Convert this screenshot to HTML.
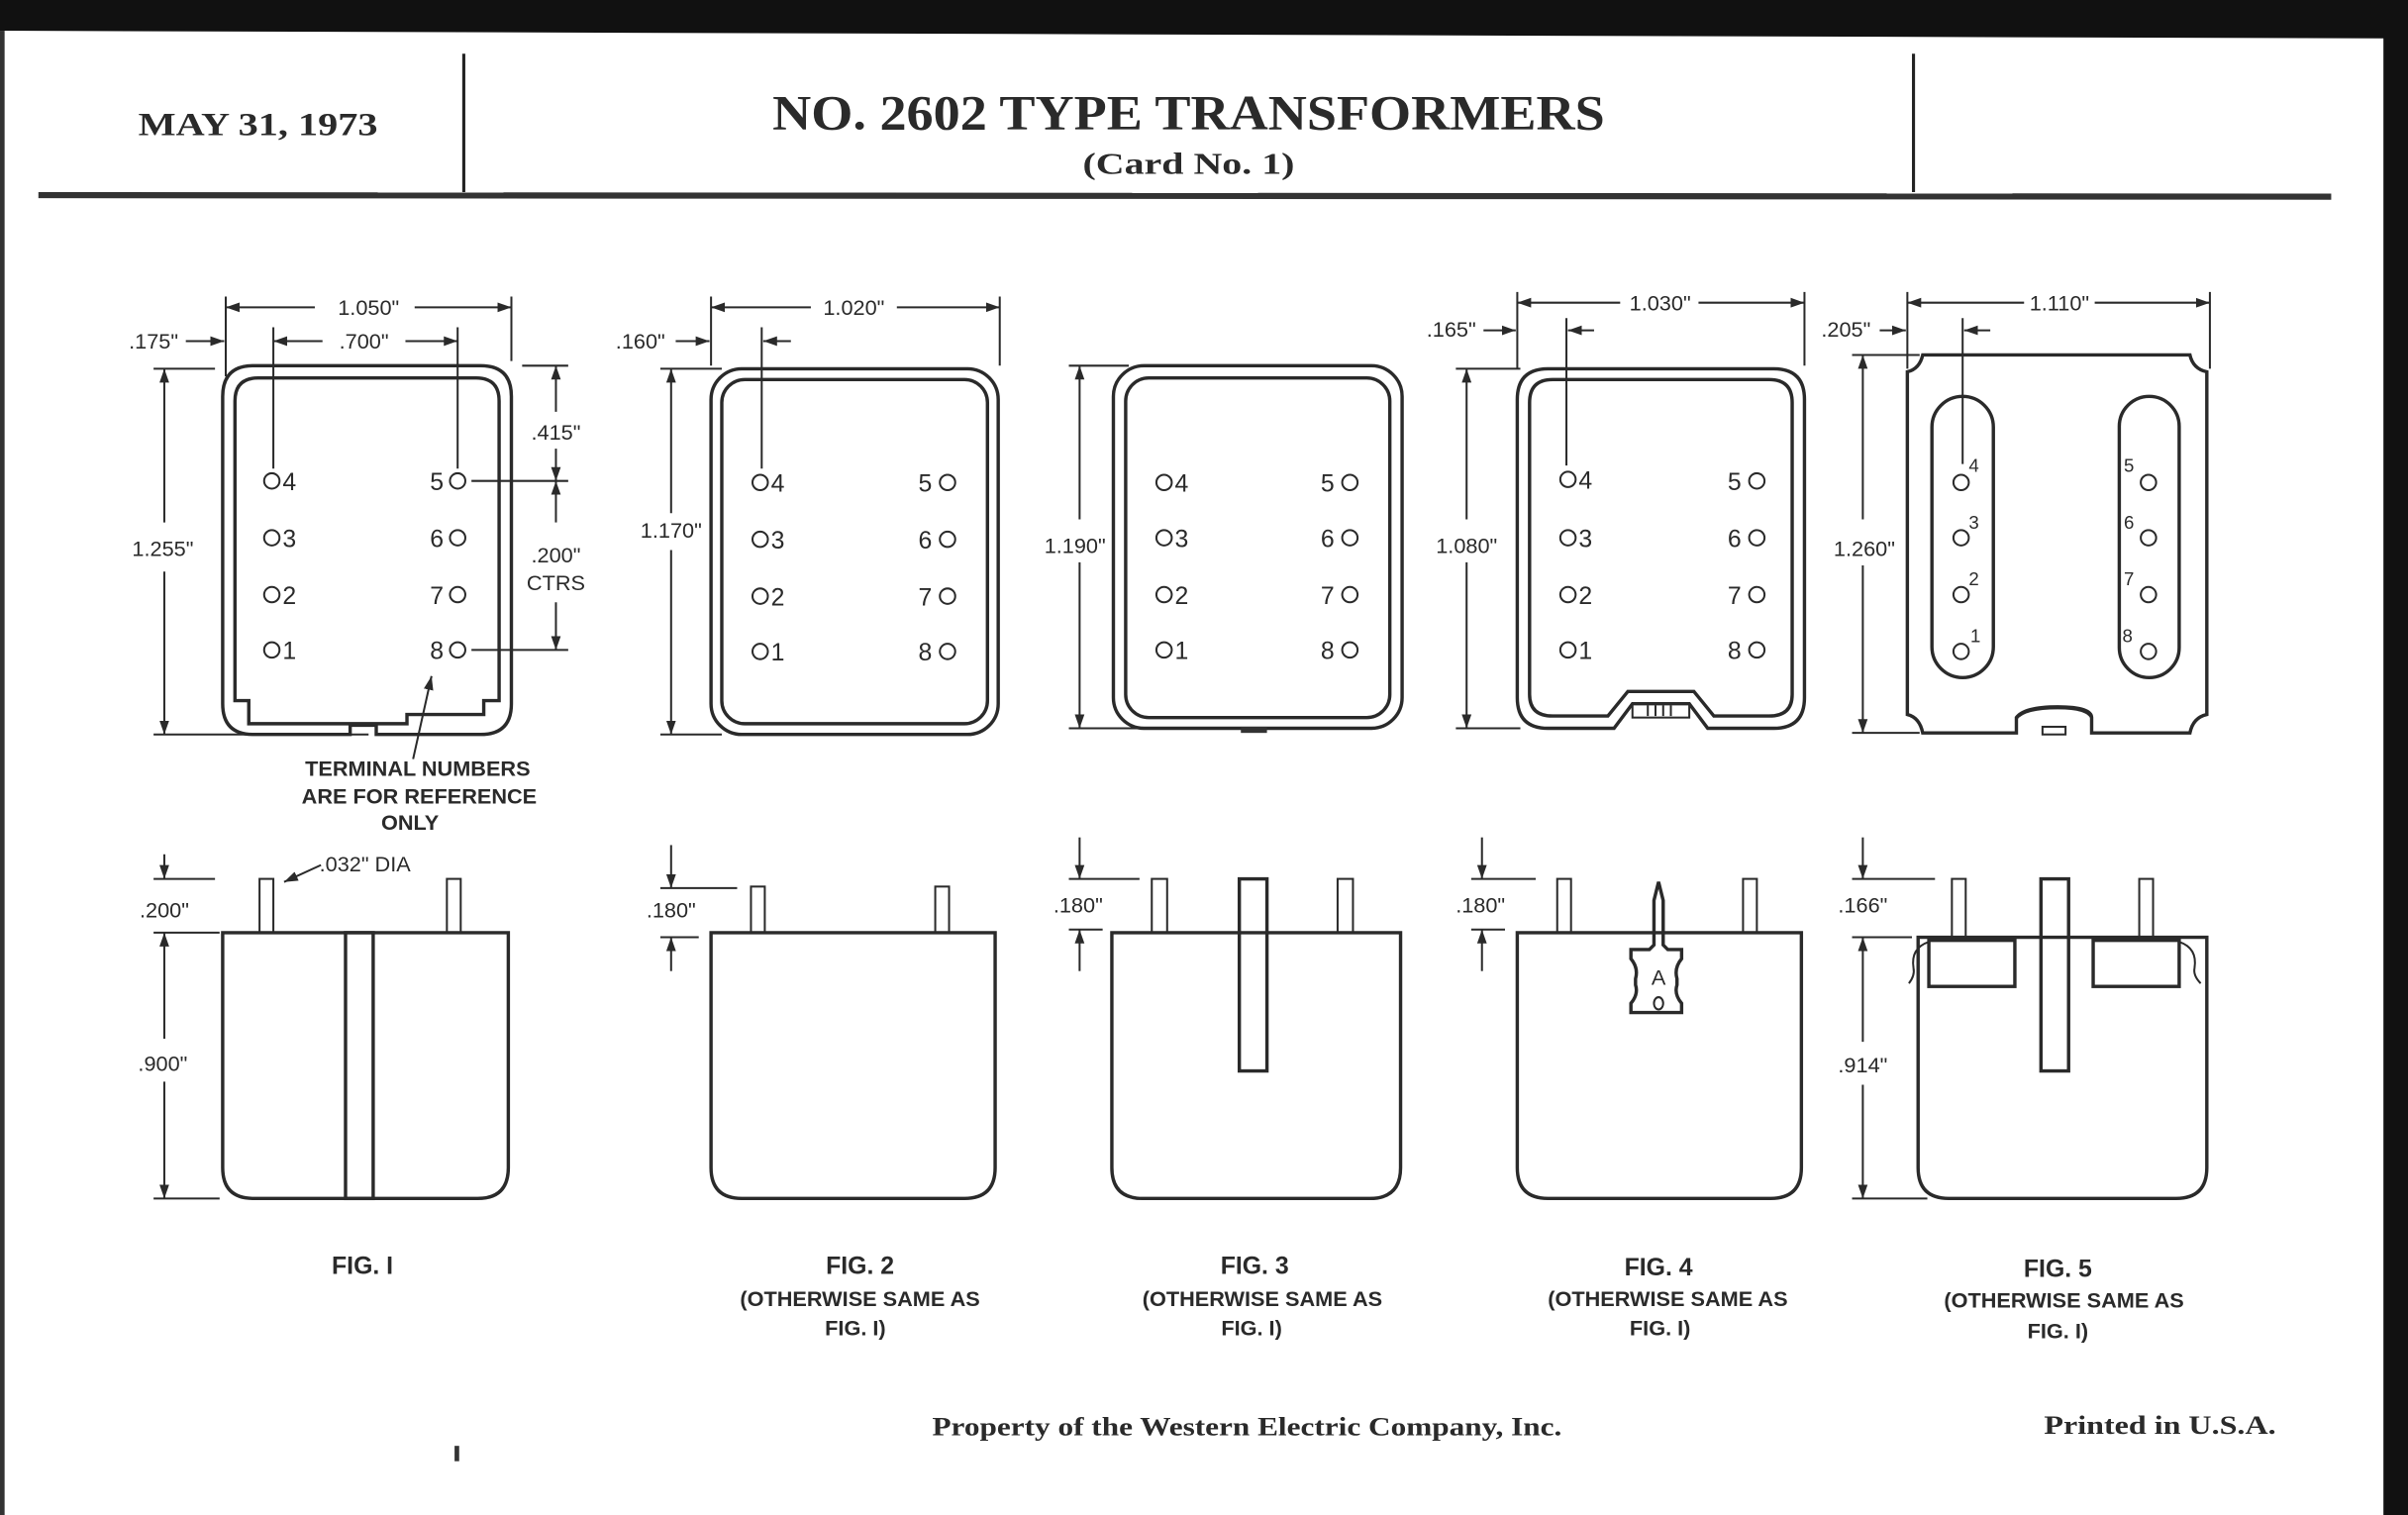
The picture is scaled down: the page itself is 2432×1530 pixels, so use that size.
<!DOCTYPE html>
<html><head><meta charset="utf-8"><style>
html,body{margin:0;padding:0;background:#fff;}
svg{display:block;}
.s{fill:none;stroke:#2a2a2a;stroke-width:2.2;}
.t{fill:none;stroke:#2a2a2a;stroke-width:1.3;}
.d{font-family:"Liberation Sans",sans-serif;font-size:14px;fill:#2a2a2a;}
.n{font-family:"Liberation Sans",sans-serif;font-size:16px;fill:#2a2a2a;}
.c{font-family:"Liberation Sans",sans-serif;font-size:16px;font-weight:bold;fill:#2a2a2a;text-anchor:middle;}
.c2{font-family:"Liberation Sans",sans-serif;font-size:14px;font-weight:bold;fill:#2a2a2a;text-anchor:middle;}
.sup{font-family:"Liberation Sans",sans-serif;font-size:12px;fill:#2a2a2a;}
.h{font-family:"Liberation Serif",serif;font-weight:bold;fill:#2a2a2a;}
</style></head><body>
<svg width="2432" height="1530" viewBox="0 0 1568 986" preserveAspectRatio="none" xmlns="http://www.w3.org/2000/svg">
<defs>
<marker id="a" viewBox="0 0 10 10" refX="10" refY="5" markerWidth="9" markerHeight="9" markerUnits="userSpaceOnUse" orient="auto-start-reverse"><path d="M0,1.5 L10,5 L0,8.5z" fill="#2a2a2a"/></marker>
</defs>
<rect width="1568" height="986" fill="#fff"/>
<polygon points="0,0 1568,0 1568,986 1552,986 1552,25 0,20" fill="#111"/>
<rect x="0" y="20" width="3" height="966" fill="#333"/>
<!-- header -->
<line x1="302" y1="35" x2="302" y2="125" stroke="#222" stroke-width="2"/>
<line x1="1246" y1="35" x2="1246" y2="125" stroke="#222" stroke-width="2"/>
<line x1="25" y1="127" x2="1518" y2="128" stroke="#333" stroke-width="4"/>
<text class="h" x="90" y="88" font-size="21" textLength="156" lengthAdjust="spacingAndGlyphs">MAY 31, 1973</text>
<text class="h" x="503" y="84" font-size="32" textLength="542" lengthAdjust="spacingAndGlyphs">NO. 2602 TYPE TRANSFORMERS</text>
<text class="h" x="705" y="113" font-size="20" font-weight="normal" textLength="138" lengthAdjust="spacingAndGlyphs">(Card No. 1)</text>

<!-- ===== FIG 1 top ===== -->
<path class="s" d="M165,238 H313 Q333,238 333,258 V458 Q333,478 313,478 H245 V472 H228 V478 H165 Q145,478 145,458 V258 Q145,238 165,238Z"/>
<path class="s" d="M168,246 H310 Q325,246 325,261 V456 H315 V465 H265 V471 H162 V456 H153 V261 Q153,246 168,246Z"/>
<line class="t" x1="147" y1="193" x2="147" y2="245"/><line class="t" x1="333" y1="193" x2="333" y2="235"/>
<line class="t" x1="147" y1="200" x2="205" y2="200" marker-start="url(#a)"/><line class="t" x1="270" y1="200" x2="333" y2="200" marker-end="url(#a)"/>
<text class="d" x="240" y="205" text-anchor="middle">1.050"</text>
<line class="t" x1="178" y1="213" x2="178" y2="305"/><line class="t" x1="298" y1="213" x2="298" y2="305"/>
<line class="t" x1="178" y1="222" x2="210" y2="222" marker-start="url(#a)"/><line class="t" x1="264" y1="222" x2="298" y2="222" marker-end="url(#a)"/>
<text class="d" x="237" y="227" text-anchor="middle">.700"</text>
<text class="d" x="100" y="227" text-anchor="middle">.175"</text>
<line class="t" x1="121" y1="222" x2="146" y2="222" marker-end="url(#a)"/>
<line class="t" x1="100" y1="240" x2="140" y2="240"/><line class="t" x1="100" y1="478" x2="240" y2="478"/>
<line class="t" x1="107" y1="240" x2="107" y2="340" marker-start="url(#a)"/><line class="t" x1="107" y1="372" x2="107" y2="478" marker-end="url(#a)"/>
<text class="d" x="106" y="362" text-anchor="middle">1.255"</text>
<line class="t" x1="340" y1="238" x2="370" y2="238"/><line class="t" x1="307" y1="313" x2="370" y2="313"/><line class="t" x1="307" y1="423" x2="370" y2="423"/>
<line class="t" x1="362" y1="238" x2="362" y2="268" marker-start="url(#a)"/><line class="t" x1="362" y1="292" x2="362" y2="313" marker-end="url(#a)"/>
<text class="d" x="362" y="286" text-anchor="middle">.415"</text>
<line class="t" x1="362" y1="313" x2="362" y2="340" marker-start="url(#a)"/><line class="t" x1="362" y1="392" x2="362" y2="423" marker-end="url(#a)"/>
<text class="d" x="362" y="366" text-anchor="middle">.200"</text>
<text class="d" x="362" y="384" text-anchor="middle">CTRS</text>
<g class="t"><circle cx="177" cy="313" r="5"/><circle cx="177" cy="350" r="5"/><circle cx="177" cy="387" r="5"/><circle cx="177" cy="423" r="5"/>
<circle cx="298" cy="313" r="5"/><circle cx="298" cy="350" r="5"/><circle cx="298" cy="387" r="5"/><circle cx="298" cy="423" r="5"/></g>
<g class="n"><text x="184" y="319">4</text><text x="184" y="356">3</text><text x="184" y="393">2</text><text x="184" y="429">1</text>
<text x="280" y="319">5</text><text x="280" y="356">6</text><text x="280" y="393">7</text><text x="280" y="429">8</text></g>
<line class="t" x1="269" y1="494" x2="281" y2="440" marker-end="url(#a)"/>
<text class="c2" x="272" y="505" font-weight="normal">TERMINAL  NUMBERS</text>
<text class="c2" x="273" y="523" font-weight="normal">ARE  FOR  REFERENCE</text>
<text class="c2" x="267" y="540" font-weight="normal">ONLY</text>

<!-- ===== FIG 2 top ===== -->
<rect class="s" x="463" y="240" width="187" height="238" rx="20"/>
<rect class="s" x="470" y="247" width="173" height="224" rx="15"/>
<line class="t" x1="463" y1="193" x2="463" y2="238"/><line class="t" x1="651" y1="193" x2="651" y2="238"/>
<line class="t" x1="463" y1="200" x2="528" y2="200" marker-start="url(#a)"/><line class="t" x1="584" y1="200" x2="651" y2="200" marker-end="url(#a)"/>
<text class="d" x="556" y="205" text-anchor="middle">1.020"</text>
<text class="d" x="417" y="227" text-anchor="middle">.160"</text>
<line class="t" x1="440" y1="222" x2="462" y2="222" marker-end="url(#a)"/>
<line class="t" x1="515" y1="222" x2="497" y2="222" marker-end="url(#a)"/>
<line class="t" x1="496" y1="213" x2="496" y2="305"/>
<line class="t" x1="430" y1="240" x2="470" y2="240"/><line class="t" x1="430" y1="478" x2="470" y2="478"/>
<line class="t" x1="437" y1="240" x2="437" y2="334" marker-start="url(#a)"/><line class="t" x1="437" y1="358" x2="437" y2="478" marker-end="url(#a)"/>
<text class="d" x="437" y="350" text-anchor="middle">1.170"</text>
<g class="t"><circle cx="495" cy="314" r="5"/><circle cx="495" cy="351" r="5"/><circle cx="495" cy="388" r="5"/><circle cx="495" cy="424" r="5"/>
<circle cx="617" cy="314" r="5"/><circle cx="617" cy="351" r="5"/><circle cx="617" cy="388" r="5"/><circle cx="617" cy="424" r="5"/></g>
<g class="n"><text x="502" y="320">4</text><text x="502" y="357">3</text><text x="502" y="394">2</text><text x="502" y="430">1</text>
<text x="598" y="320">5</text><text x="598" y="357">6</text><text x="598" y="394">7</text><text x="598" y="430">8</text></g>

<!-- ===== FIG 3 top ===== -->
<rect class="s" x="725" y="238" width="188" height="236" rx="20"/>
<rect class="s" x="733" y="246" width="172" height="221" rx="15"/>
<rect x="808" y="473" width="17" height="4" fill="#333"/>
<line class="t" x1="696" y1="238" x2="735" y2="238"/><line class="t" x1="696" y1="474" x2="808" y2="474"/>
<line class="t" x1="703" y1="238" x2="703" y2="338" marker-start="url(#a)"/><line class="t" x1="703" y1="366" x2="703" y2="474" marker-end="url(#a)"/>
<text class="d" x="700" y="360" text-anchor="middle">1.190"</text>
<g class="t"><circle cx="758" cy="314" r="5"/><circle cx="758" cy="350" r="5"/><circle cx="758" cy="387" r="5"/><circle cx="758" cy="423" r="5"/>
<circle cx="879" cy="314" r="5"/><circle cx="879" cy="350" r="5"/><circle cx="879" cy="387" r="5"/><circle cx="879" cy="423" r="5"/></g>
<g class="n"><text x="765" y="320">4</text><text x="765" y="356">3</text><text x="765" y="393">2</text><text x="765" y="429">1</text>
<text x="860" y="320">5</text><text x="860" y="356">6</text><text x="860" y="393">7</text><text x="860" y="429">8</text></g>

<!-- ===== FIG 4 top ===== -->
<path class="s" d="M1008,240 H1155 Q1175,240 1175,260 V454 Q1175,474 1155,474 H1112 L1100,458 H1063 L1051,474 H1008 Q988,474 988,454 V260 Q988,240 1008,240Z"/>
<path class="s" d="M1011,247 H1152 Q1167,247 1167,262 V452 Q1167,466 1152,466 H1116 L1103,450 H1060 L1047,466 H1011 Q996,466 996,452 V262 Q996,247 1011,247Z"/>
<rect class="t" x="1063" y="458" width="37" height="9"/><line class="t" x1="1073" y1="459" x2="1073" y2="466"/><line class="t" x1="1078" y1="459" x2="1078" y2="466"/><line class="t" x1="1083" y1="459" x2="1083" y2="466"/><line class="t" x1="1088" y1="459" x2="1088" y2="466"/>
<line class="t" x1="988" y1="190" x2="988" y2="240"/><line class="t" x1="1175" y1="190" x2="1175" y2="238"/>
<line class="t" x1="988" y1="197" x2="1055" y2="197" marker-start="url(#a)"/><line class="t" x1="1106" y1="197" x2="1175" y2="197" marker-end="url(#a)"/>
<text class="d" x="1081" y="202" text-anchor="middle">1.030"</text>
<text class="d" x="945" y="219" text-anchor="middle">.165"</text>
<line class="t" x1="966" y1="215" x2="987" y2="215" marker-end="url(#a)"/>
<line class="t" x1="1038" y1="215" x2="1021" y2="215" marker-end="url(#a)"/>
<line class="t" x1="1020" y1="207" x2="1020" y2="303"/>
<line class="t" x1="948" y1="240" x2="990" y2="240"/><line class="t" x1="948" y1="474" x2="990" y2="474"/>
<line class="t" x1="955" y1="240" x2="955" y2="338" marker-start="url(#a)"/><line class="t" x1="955" y1="366" x2="955" y2="474" marker-end="url(#a)"/>
<text class="d" x="955" y="360" text-anchor="middle">1.080"</text>
<g class="t"><circle cx="1021" cy="312" r="5"/><circle cx="1021" cy="350" r="5"/><circle cx="1021" cy="387" r="5"/><circle cx="1021" cy="423" r="5"/>
<circle cx="1144" cy="313" r="5"/><circle cx="1144" cy="350" r="5"/><circle cx="1144" cy="387" r="5"/><circle cx="1144" cy="423" r="5"/></g>
<g class="n"><text x="1028" y="318">4</text><text x="1028" y="356">3</text><text x="1028" y="393">2</text><text x="1028" y="429">1</text>
<text x="1125" y="319">5</text><text x="1125" y="356">6</text><text x="1125" y="393">7</text><text x="1125" y="429">8</text></g>

<!-- ===== FIG 5 top ===== -->
<path class="s" d="M1252,231 H1426 Q1428,240 1437,242 V465 Q1428,467 1426,477 H1362 V467 Q1362,460 1340,460 Q1318,460 1313,467 V477 H1252 Q1250,467 1242,465 V242 Q1250,240 1252,231Z"/>
<path class="t" d="M1313,468 Q1318,461 1340,461 Q1360,461 1362,468" stroke-width="3"/>
<rect class="t" x="1330" y="473" width="15" height="5"/>
<rect class="s" x="1258" y="258" width="40" height="183" rx="20"/>
<rect class="s" x="1380" y="258" width="39" height="183" rx="19.5"/>
<line class="t" x1="1242" y1="190" x2="1242" y2="240"/><line class="t" x1="1439" y1="190" x2="1439" y2="240"/>
<line class="t" x1="1242" y1="197" x2="1318" y2="197" marker-start="url(#a)"/><line class="t" x1="1364" y1="197" x2="1439" y2="197" marker-end="url(#a)"/>
<text class="d" x="1341" y="202" text-anchor="middle">1.110"</text>
<text class="d" x="1202" y="219" text-anchor="middle">.205"</text>
<line class="t" x1="1224" y1="215" x2="1241" y2="215" marker-end="url(#a)"/>
<line class="t" x1="1296" y1="215" x2="1279" y2="215" marker-end="url(#a)"/>
<line class="t" x1="1278" y1="207" x2="1278" y2="302"/>
<line class="t" x1="1206" y1="231" x2="1250" y2="231"/><line class="t" x1="1206" y1="477" x2="1250" y2="477"/>
<line class="t" x1="1213" y1="231" x2="1213" y2="338" marker-start="url(#a)"/><line class="t" x1="1213" y1="368" x2="1213" y2="477" marker-end="url(#a)"/>
<text class="d" x="1214" y="362" text-anchor="middle">1.260"</text>
<g class="t"><circle cx="1277" cy="314" r="5"/><circle cx="1277" cy="350" r="5"/><circle cx="1277" cy="387" r="5"/><circle cx="1277" cy="424" r="5"/>
<circle cx="1399" cy="314" r="5"/><circle cx="1399" cy="350" r="5"/><circle cx="1399" cy="387" r="5"/><circle cx="1399" cy="424" r="5"/></g>
<g class="sup" font-size="13"><text x="1282" y="307">4</text><text x="1282" y="344">3</text><text x="1282" y="381">2</text><text x="1283" y="418">1</text>
<text x="1383" y="307">5</text><text x="1383" y="344">6</text><text x="1383" y="381">7</text><text x="1382" y="418">8</text></g>

<!-- ===== bottom views ===== -->
<path class="s" d="M145,607 H331 V760 Q331,780 311,780 H165 Q145,780 145,760Z"/>
<rect class="s" x="225" y="607" width="18" height="173"/>
<rect class="t" x="169" y="572" width="9" height="35"/><rect class="t" x="291" y="572" width="9" height="35"/>
<line class="t" x1="107" y1="556" x2="107" y2="572" marker-end="url(#a)"/>
<line class="t" x1="100" y1="572" x2="140" y2="572"/>
<text class="d" x="107" y="597" text-anchor="middle">.200"</text>
<line class="t" x1="100" y1="607" x2="143" y2="607"/><line class="t" x1="100" y1="780" x2="143" y2="780"/>
<line class="t" x1="107" y1="607" x2="107" y2="676" marker-start="url(#a)"/><line class="t" x1="107" y1="704" x2="107" y2="780" marker-end="url(#a)"/>
<text class="d" x="106" y="697" text-anchor="middle">.900"</text>
<text class="d" x="208" y="567">.032" DIA</text>
<line class="t" x1="209" y1="563" x2="185" y2="574" marker-end="url(#a)"/>
<text class="c" x="236" y="829">FIG. I</text>

<path class="s" d="M463,607 H648 V760 Q648,780 628,780 H483 Q463,780 463,760Z"/>
<rect class="t" x="489" y="577" width="9" height="30"/><rect class="t" x="609" y="577" width="9" height="30"/>
<line class="t" x1="437" y1="550" x2="437" y2="578" marker-end="url(#a)"/>
<line class="t" x1="430" y1="578" x2="480" y2="578"/>
<text class="d" x="437" y="597" text-anchor="middle">.180"</text>
<line class="t" x1="430" y1="610" x2="455" y2="610"/>
<line class="t" x1="437" y1="632" x2="437" y2="610" marker-end="url(#a)"/>
<text class="c" x="560" y="829">FIG. 2</text>
<text class="c2" x="560" y="850">(OTHERWISE SAME AS</text>
<text class="c2" x="557" y="869" font-size="13">FIG. I)</text>

<path class="s" d="M724,607 H912 V760 Q912,780 892,780 H744 Q724,780 724,760Z"/>
<rect class="s" x="807" y="572" width="18" height="125" fill="#fff"/>
<rect class="t" x="750" y="572" width="10" height="35"/><rect class="t" x="871" y="572" width="10" height="35"/>
<line class="t" x1="703" y1="545" x2="703" y2="572" marker-end="url(#a)"/>
<line class="t" x1="696" y1="572" x2="742" y2="572"/>
<text class="d" x="702" y="594" text-anchor="middle">.180"</text>
<line class="t" x1="696" y1="605" x2="718" y2="605"/>
<line class="t" x1="703" y1="632" x2="703" y2="605" marker-end="url(#a)"/>
<text class="c" x="817" y="829">FIG. 3</text>
<text class="c2" x="822" y="850">(OTHERWISE SAME AS</text>
<text class="c2" x="815" y="869" font-size="13">FIG. I)</text>

<path class="s" d="M988,607 H1173 V760 Q1173,780 1153,780 H1008 Q988,780 988,760Z"/>
<rect class="t" x="1014" y="572" width="9" height="35"/><rect class="t" x="1135" y="572" width="9" height="35"/>
<path class="s" fill="#fff" d="M1077,615 V586 L1080,574 L1083,586 V615 L1086,618 H1095 V624 Q1090,630 1092,637 V641 Q1090,647 1095,653 V659 H1062 V653 Q1067,647 1065,641 V637 Q1067,630 1062,624 V618 H1074Z"/>
<text x="1080" y="641" class="d" text-anchor="middle" font-size="13">A</text>
<ellipse class="t" cx="1080" cy="653" rx="3" ry="4"/>
<line class="t" x1="965" y1="545" x2="965" y2="572" marker-end="url(#a)"/>
<line class="t" x1="958" y1="572" x2="1000" y2="572"/>
<text class="d" x="964" y="594" text-anchor="middle">.180"</text>
<line class="t" x1="958" y1="605" x2="980" y2="605"/>
<line class="t" x1="965" y1="632" x2="965" y2="605" marker-end="url(#a)"/>
<text class="c" x="1080" y="830">FIG. 4</text>
<text class="c2" x="1086" y="850">(OTHERWISE SAME AS</text>
<text class="c2" x="1081" y="869" font-size="13">FIG. I)</text>

<path class="s" d="M1249,610 H1437 V760 Q1437,780 1417,780 H1269 Q1249,780 1249,760Z"/>
<rect class="s" x="1256" y="612" width="56" height="30" fill="#fff"/>
<rect class="s" x="1363" y="612" width="56" height="30" fill="#fff"/>
<path class="t" d="M1256,613 Q1244,617 1246,630 Q1247,635 1243,640" stroke-width="2"/>
<path class="t" d="M1419,613 Q1431,617 1429,630 Q1428,635 1433,640" stroke-width="2"/>
<rect class="s" x="1329" y="572" width="18" height="125" fill="#fff"/>
<rect class="t" x="1271" y="572" width="9" height="38"/><rect class="t" x="1393" y="572" width="9" height="38"/>
<line class="t" x1="1213" y1="545" x2="1213" y2="572" marker-end="url(#a)"/>
<line class="t" x1="1206" y1="572" x2="1260" y2="572"/>
<text class="d" x="1213" y="594" text-anchor="middle">.166"</text>
<line class="t" x1="1206" y1="610" x2="1245" y2="610"/><line class="t" x1="1206" y1="780" x2="1255" y2="780"/>
<line class="t" x1="1213" y1="610" x2="1213" y2="678" marker-start="url(#a)"/><line class="t" x1="1213" y1="706" x2="1213" y2="780" marker-end="url(#a)"/>
<text class="d" x="1213" y="698" text-anchor="middle">.914"</text>
<text class="c" x="1340" y="831">FIG. 5</text>
<text class="c2" x="1344" y="851">(OTHERWISE SAME AS</text>
<text class="c2" x="1340" y="871" font-size="13">FIG. I)</text>

<!-- footer -->
<text class="h" x="607" y="934" font-size="17" textLength="410" lengthAdjust="spacingAndGlyphs">Property of the Western Electric Company, Inc.</text>
<text class="h" x="1331" y="933" font-size="17" textLength="151" lengthAdjust="spacingAndGlyphs">Printed in U.S.A.</text>
<rect x="296" y="941" width="3" height="10" fill="#333"/>
</svg>
</body></html>
